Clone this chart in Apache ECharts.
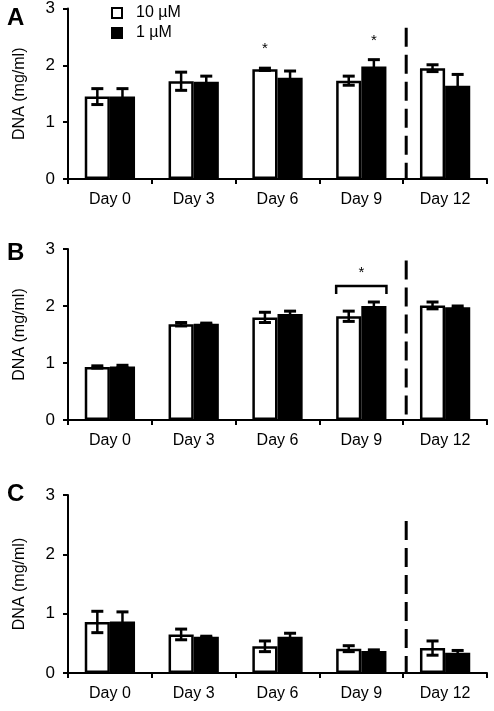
<!DOCTYPE html>
<html>
<head>
<meta charset="utf-8">
<script src="https://cdn.jsdelivr.net/npm/echarts@6/dist/echarts.min.js"></script>
<style>html,body{margin:0;padding:0;background:#fff;}#c{width:494px;height:711px;}</style>
</head>
<body>
<div id="c"></div>
<script>
// ---------- data ----------
const categories = ['Day 0', 'Day 3', 'Day 6', 'Day 9', 'Day 12'];
const seriesNames = ['10 µM', '1 µM'];
const panelLetters = ['A', 'B', 'C'];
const yTicks = [0, 1, 2, 3];

// Panel A
const aWhite = [1.45, 1.72, 1.93, 1.73, 1.95];
const aWhiteErr = [0.14, 0.16, 0.02, 0.08, 0.06];
const aBlack = [1.45, 1.71, 1.78, 1.98, 1.64];
const aBlackErr = [0.14, 0.10, 0.12, 0.12, 0.20];
// Panel B
const bWhite = [0.93, 1.68, 1.80, 1.82, 2.01];
const bWhiteErr = [0.02, 0.03, 0.09, 0.09, 0.06];
const bBlack = [0.94, 1.69, 1.86, 2.00, 1.98];
const bBlackErr = [0.02, 0.01, 0.05, 0.07, 0.02];
// Panel C
const cWhite = [0.86, 0.65, 0.45, 0.41, 0.42];
const cWhiteErr = [0.18, 0.09, 0.09, 0.05, 0.12];
const cBlack = [0.87, 0.61, 0.61, 0.37, 0.34];
const cBlackErr = [0.16, 0.01, 0.06, 0.02, 0.04];

// significance marks: [category index, bar (-1 = 10 µM, 1 = 1 µM, 0 = both)]
const aSig = [[2, -1], [3, 1]];
const bSig = [[3, 0]];
const cSig = [];
// dashed divider between Day 9 and Day 12: top value per panel
const dividerTop = [2.66, 2.8, 2.56];

// ---------- chart ----------
const FONT = 'Liberation Sans, Arial, Helvetica, sans-serif';
const panels = [
  { white: aWhite, wErr: aWhiteErr, black: aBlack, bErr: aBlackErr, sig: aSig },
  { white: bWhite, wErr: bWhiteErr, black: bBlack, bErr: bBlackErr, sig: bSig },
  { white: cWhite, wErr: cWhiteErr, black: cBlack, bErr: cBlackErr, sig: cSig }
];
const grids = [
  { left: 68, top: 5, width: 419, height: 174 },
  { left: 68, top: 249, width: 419, height: 171 },
  { left: 68, top: 495, width: 419, height: 178 }
];
const letterTops = [1, 236, 477];

function errRender(sign) {
  return function (params, api) {
    const i = api.value(0), m = api.value(1), e = api.value(2);
    const band = api.size([1, 0])[0];
    const cx = api.coord([i, m])[0] + sign * band * 0.15;
    const yT = api.coord([i, m + e])[1];
    const yB = api.coord([i, m - e])[1];
    const hw = 6;
    const st = { stroke: '#000', lineWidth: 2.5 };
    return {
      type: 'group', children: [
        { type: 'line', shape: { x1: cx, y1: yT, x2: cx, y2: yB }, style: st },
        { type: 'line', shape: { x1: cx - hw, y1: yT, x2: cx + hw, y2: yT }, style: { stroke: '#000', lineWidth: 3 } },
        { type: 'line', shape: { x1: cx - hw, y1: yB, x2: cx + hw, y2: yB }, style: { stroke: '#000', lineWidth: 3 } }
      ]
    };
  };
}

function sigRender(p) {
  return function (params, api) {
    const i = api.value(0), side = api.value(1);
    const band = api.size([1, 0])[0];
    const c0 = api.coord([i, 0])[0];
    const topW = p.white[i] + p.wErr[i], topB = p.black[i] + p.bErr[i];
    if (side !== 0) {
      const top = side < 0 ? topW : topB;
      const cx = c0 + side * band * 0.15;
      const y = api.coord([i, top])[1] - 19;
      return { type: 'text', style: { text: '*', x: cx, y: y, textAlign: 'center', textVerticalAlign: 'middle', font: '15px ' + FONT, fill: '#000' } };
    }
    const top = Math.max(topW, topB);
    const y = api.coord([i, top])[1] - 16;
    const x1 = c0 - band * 0.3, x2 = c0 + band * 0.3;
    return {
      type: 'group', children: [
        { type: 'polyline', shape: { points: [[x1, y + 8], [x1, y], [x2, y], [x2, y + 8]] }, style: { stroke: '#000', lineWidth: 2.5, fill: null } },
        { type: 'text', style: { text: '*', x: c0, y: y - 13, textAlign: 'center', textVerticalAlign: 'middle', font: '15px ' + FONT, fill: '#000' } }
      ]
    };
  };
}

function dividerRender(params, api) {
  const i = api.value(0), top = api.value(1);
  const band = api.size([1, 0])[0];
  const x = api.coord([i, 0])[0] - band / 2 + 3;
  const y0 = api.coord([i, 0])[1];
  const y1 = api.coord([i, top])[1];
  return { type: 'line', shape: { x1: x, y1: y1, x2: x, y2: y0 }, style: { stroke: '#000', lineWidth: 3, lineDash: [19, 8] } };
}

const xAxes = [], yAxes = [], series = [], titles = [];
panels.forEach(function (p, k) {
  xAxes.push({
    type: 'category', gridIndex: k, data: categories,
    axisLine: { lineStyle: { color: '#000', width: 2 } },
    axisTick: { show: true, length: 5, lineStyle: { color: '#000', width: 2 } },
    axisLabel: { color: '#000', fontSize: 16, fontFamily: FONT, margin: 13 }
  });
  yAxes.push({
    type: 'value', gridIndex: k, min: yTicks[0], max: yTicks[yTicks.length - 1], interval: 1,
    name: 'DNA (mg/ml)', nameLocation: 'middle', nameGap: 40,
    nameTextStyle: { color: '#000', fontSize: 16, fontFamily: FONT },
    axisLine: { show: true, lineStyle: { color: '#000', width: 2 } },
    axisTick: { show: true, length: 5, lineStyle: { color: '#000', width: 2 } },
    axisLabel: { color: '#000', fontSize: 17, fontFamily: FONT, margin: 13 },
    splitLine: { show: false }
  });
  titles.push({ text: panelLetters[k], left: 2, top: letterTops[k], textStyle: { fontSize: 24, fontWeight: 'bold', color: '#000', fontFamily: FONT } });
  series.push({
    name: seriesNames[0], type: 'bar', xAxisIndex: k, yAxisIndex: k, data: p.white,
    barGap: '0%', barCategoryGap: '40%',
    itemStyle: { color: '#fff', borderColor: '#000', borderWidth: 2.5 }, z: 2
  });
  series.push({
    name: seriesNames[1], type: 'bar', xAxisIndex: k, yAxisIndex: k, data: p.black,
    barGap: '0%', barCategoryGap: '40%',
    itemStyle: { color: '#000', borderColor: '#000', borderWidth: 2.5 }, z: 2
  });
  series.push({
    type: 'custom', xAxisIndex: k, yAxisIndex: k, z: 5, silent: true,
    renderItem: errRender(-1),
    data: p.white.map(function (v, i) { return [i, v, p.wErr[i]]; })
  });
  series.push({
    type: 'custom', xAxisIndex: k, yAxisIndex: k, z: 5, silent: true,
    renderItem: errRender(1),
    data: p.black.map(function (v, i) { return [i, v, p.bErr[i]]; })
  });
  series.push({
    type: 'custom', xAxisIndex: k, yAxisIndex: k, z: 6, silent: true,
    renderItem: dividerRender,
    data: [[4, dividerTop[k]]]
  });
  if (p.sig.length) {
    series.push({
      type: 'custom', xAxisIndex: k, yAxisIndex: k, z: 6, silent: true,
      renderItem: sigRender(p),
      data: p.sig
    });
  }
});

const option = {
  animation: false,
  backgroundColor: '#fff',
  title: titles,
  legend: {
    data: seriesNames, orient: 'vertical', left: 106, top: 0, itemGap: 4,
    itemWidth: 10, itemHeight: 10, icon: 'rect',
    itemStyle: { borderColor: '#000', borderWidth: 2 },
    textStyle: { color: '#000', fontSize: 16, fontFamily: FONT, padding: [0, 0, 0, 9] },
    selectedMode: false
  },
  grid: grids,
  xAxis: xAxes,
  yAxis: yAxes,
  series: series
};

const chart = echarts.init(document.getElementById('c'), null, { renderer: 'canvas' });
chart.setOption(option);
</script>
</body>
</html>
